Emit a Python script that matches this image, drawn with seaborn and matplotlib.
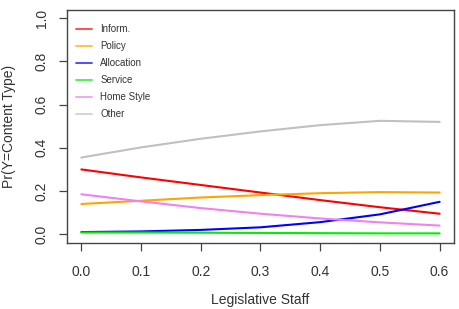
import numpy as np
import pandas as pd
import matplotlib
matplotlib.use("Agg")
import matplotlib.pyplot as plt
import seaborn as sns
from matplotlib.lines import Line2D

staff = [0.0, 0.1, 0.2, 0.3, 0.4, 0.5, 0.6]
inform = [0.300, 0.263, 0.228, 0.193, 0.158, 0.125, 0.095]
policy = [0.140, 0.155, 0.170, 0.181, 0.190, 0.195, 0.193]
allocation = [0.010, 0.013, 0.020, 0.032, 0.056, 0.092, 0.150]
service = [0.008, 0.008, 0.007, 0.006, 0.005, 0.004, 0.004]
homestyle = [0.185, 0.152, 0.121, 0.095, 0.073, 0.055, 0.040]
other = [0.355, 0.402, 0.442, 0.476, 0.505, 0.525, 0.520]

series_names = ["Inform.", "Policy", "Allocation", "Service", "Home Style", "Other"]
series_vals = [inform, policy, allocation, service, homestyle, other]
colors = ["#FF0000", "#FFA500", "#0000FF", "#00EE00", "#EE82EE", "#C0C0C0"]

df = pd.DataFrame({
    "x": np.tile(staff, len(series_names)),
    "y": np.concatenate(series_vals),
    "type": np.repeat(series_names, len(staff)),
})

sns.set_style("white")
plt.rcParams["font.family"] = ["Liberation Sans", "DejaVu Sans"]

fig = plt.figure(figsize=(4.59, 3.09), dpi=100)
ax = fig.add_axes([0.146, 0.214, 0.843, 0.755])
sns.lineplot(data=df, x="x", y="y", hue="type", palette=dict(zip(series_names, colors)),
             hue_order=series_names, linewidth=1.5, ax=ax, legend=False)

ax.set_xlim(-0.024, 0.624)
ax.set_ylim(-0.04, 1.04)
ax.set_xticks([0.0, 0.1, 0.2, 0.3, 0.4, 0.5, 0.6])
ax.set_yticks([0.0, 0.2, 0.4, 0.6, 0.8, 1.0])
ax.set_xticklabels(["0.0", "0.1", "0.2", "0.3", "0.4", "0.5", "0.6"], fontsize=10, color="#333333")
ax.set_yticklabels(["0.0", "0.2", "0.4", "0.6", "0.8", "1.0"], fontsize=10, color="#333333",
                   rotation=90, va="center")
ax.tick_params(axis="x", direction="out", length=6, width=0.9, color="#444444",
               bottom=True, pad=10)
ax.tick_params(axis="y", direction="out", length=6, width=0.9, color="#444444",
               left=True, pad=7)
for s in ax.spines.values():
    s.set_visible(True)
    s.set_color("#444444")
    s.set_linewidth(1.0)
ax.set_xlabel("Legislative Staff", fontsize=10, color="#333333", labelpad=10)
ax.set_ylabel("Pr(Y=Content Type)", fontsize=10, color="#333333", labelpad=14)

handles = [Line2D([0], [0], color=c, lw=1.3, alpha=0.75) for c in colors]
ax.legend(handles, series_names, loc="upper left", frameon=False, fontsize=7,
          handlelength=1.7, handletextpad=0.8, labelspacing=0.72,
          bbox_to_anchor=(0.0, 0.975), labelcolor="#333333")

fig.savefig("out.png", dpi=100)
